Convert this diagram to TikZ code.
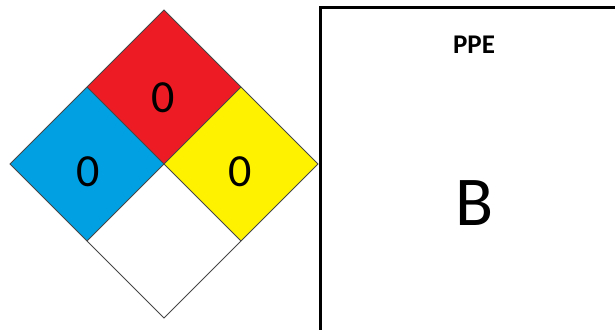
\documentclass[tikz,border=0pt]{standalone}
\usepackage{fontspec}
\setmainfont{Carlito}
\definecolor{nfpablue}{RGB}{0,160,227}
\definecolor{nfpared}{RGB}{237,28,36}
\definecolor{nfpayellow}{RGB}{255,242,0}
\definecolor{edgegray}{RGB}{70,70,70}
\begin{document}
\begin{tikzpicture}[x=1pt,y=-1pt,
  quad/.style={draw=edgegray,line width=0.8pt,line join=miter},
  num/.style={font=\fontsize{46}{46}\selectfont,inner sep=0pt}]
\useasboundingbox (0,0) rectangle (615,329);
% diamond quadrants: center (164,164), half-diagonal 154
\coordinate (T) at (164,10);
\coordinate (L) at (10,164);
\coordinate (R) at (318,164);
\coordinate (B) at (164,318);
\coordinate (C) at (164,164);
\coordinate (TL) at (87,87);
\coordinate (TR) at (241,87);
\coordinate (BL) at (87,241);
\coordinate (BR) at (241,241);
\fill[nfpared] (T) -- (TR) -- (C) -- (TL) -- cycle;
\fill[nfpablue] (TL) -- (C) -- (BL) -- (L) -- cycle;
\fill[nfpayellow] (TR) -- (R) -- (BR) -- (C) -- cycle;
\fill[white] (C) -- (BR) -- (B) -- (BL) -- cycle;
\draw[quad] (T) -- (R) -- (B) -- (L) -- cycle;
\draw[quad] (TL) -- (BR);
\draw[quad] (TR) -- (BL);
\node[num] (red) at (163.5,97.5) {0};
\node[num] (blue) at (88,172) {0};
\node[num] (yellow) at (240,172) {0};
% PPE panel
\draw[line width=2.6pt,line cap=rect] (320.5,340) -- (320.5,7.5) -- (630,7.5);
\node[font=\fontsize{27}{27}\selectfont\bfseries,inner sep=0pt] (ppe) at (474,45) {PPE};
\node[font=\fontsize{70}{70}\selectfont,inner sep=0pt] (letter) at (475,203) {B};
\end{tikzpicture}
\end{document}
